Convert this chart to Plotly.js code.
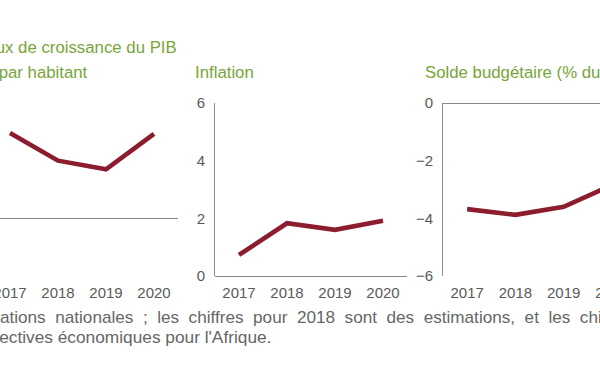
<!DOCTYPE html>
<html>
<head>
<meta charset="utf-8">
<script src="https://cdn.plot.ly/plotly-3.0.1.min.js"></script>
<style>
  html, body { margin: 0; padding: 0; width: 600px; height: 372px; overflow: hidden; background: #fff; }
  #chart { position: absolute; left: -60px; top: 0; width: 720px; height: 372px; }
</style>
</head>
<body>
<div id="chart"></div>
<script>
// ---- data ----
const years = [2017, 2018, 2019, 2020];
const gdpPerCapitaGrowth = [2.96, 2.0, 1.7, 2.93];
const inflation = [0.73, 1.83, 1.6, 1.92];
const budgetBalance = [-3.68, -3.88, -3.6, -2.85];

const titleGdpLine1 = "Taux de croissance du PIB";
const titleGdpLine2 = "réel par habitant";
const titleInflation = "Inflation";
const titleBudget = "Solde budgétaire (% du PIB)";
const noteLine1 = "Source\u00A0 :\u00A0 Données\u00A0 des\u00A0 administrations\u00A0 nationales\u00A0 ;\u00A0 les\u00A0 chiffres\u00A0 pour\u00A0 2018\u00A0 sont\u00A0 des\u00A0 estimations,\u00A0 et\u00A0 les\u00A0 chiffres\u00A0 pour\u00A0 2019\u00A0 et\u00A0 2020\u00A0 des\u00A0 projections\u00A0 des\u00A0 auteurs\u00A0 de";
const noteLine2 = "Perspectives économiques pour l'Afrique.";

// ---- styles ----
const W = 720, H = 372, OFFSET = 60;
const lineColor = "#8c1d2f";
const green = "#79a53a";
const axisGray = "#8a8a8a";
const tickGray = "#5a5a5a";
const titleFont = { family: "Liberation Sans, Arial, sans-serif", size: 16.8, color: green };
const tickFont = { family: "Liberation Sans, Arial, sans-serif", size: 15, color: tickGray };
const noteFont1 = { family: "Liberation Sans, Arial, sans-serif", size: 17.15, color: "#666" };
const noteFont2 = { family: "Liberation Sans, Arial, sans-serif", size: 17.3, color: "#666" };

const px = x => (x + OFFSET) / W;   // screen x -> paper
const py = y => 1 - y / H;          // screen y -> paper

const ydom = [py(276), py(103)];

function xAxis(domain, anchor) {
  return {
    domain: domain, anchor: anchor, range: [2016.5, 2020.5],
    tickvals: years, ticktext: years.map(String), ticks: "",
    showgrid: false, zeroline: false, showline: false,
    tickfont: tickFont, ticklabelstandoff: 6, fixedrange: true
  };
}
function yAxis(domain, anchor, range, tickvals, showlabels) {
  return {
    domain: domain, anchor: anchor, range: range, tickvals: tickvals,
    ticks: "", showgrid: false, showline: true, linecolor: axisGray, linewidth: 1,
    zeroline: true, zerolinecolor: axisGray, zerolinewidth: 1,
    showticklabels: showlabels,
    tickfont: tickFont, ticklabelstandoff: 6, fixedrange: true
  };
}

const trace = (y, xa, ya) => ({
  x: years, y: y, xaxis: xa, yaxis: ya, type: "scatter", mode: "lines",
  line: { color: lineColor, width: 4.6 }, hoverinfo: "skip", cliponaxis: true
});

const layout = {
  width: W, height: H, margin: { l: 0, r: 0, t: 0, b: 0 },
  paper_bgcolor: "#fff", plot_bgcolor: "rgba(0,0,0,0)", showlegend: false,
  xaxis: xAxis([px(-14), px(178)], "y"),
  yaxis: yAxis(ydom, "x", [-2, 4], [-2, 0, 2, 4], false),
  xaxis2: xAxis([px(215), px(407)], "y2"),
  yaxis2: yAxis(ydom, "x2", [0, 6], [0, 2, 4, 6], true),
  xaxis3: xAxis([px(443), px(636)], "y3"),
  yaxis3: yAxis(ydom, "x3", [-6, 0], [-6, -4, -2, 0], true),
  annotations: [
    { text: titleGdpLine1, xref: "paper", yref: "paper", x: px(179), y: py(47), xanchor: "right", yanchor: "middle", showarrow: false, font: titleFont },
    { text: titleGdpLine2, xref: "paper", yref: "paper", x: px(90), y: py(72), xanchor: "right", yanchor: "middle", showarrow: false, font: titleFont },
    { text: titleInflation, xref: "paper", yref: "paper", x: px(193), y: py(72), xanchor: "left", yanchor: "middle", showarrow: false, font: titleFont },
    { text: titleBudget, xref: "paper", yref: "paper", x: px(423), y: py(72), xanchor: "left", yanchor: "middle", showarrow: false, font: titleFont },
    { text: noteLine1, xref: "paper", yref: "paper", x: px(-220), y: py(317), xanchor: "left", yanchor: "middle", showarrow: false, font: noteFont1 },
    { text: noteLine2, xref: "paper", yref: "paper", x: px(273), y: py(337), xanchor: "right", yanchor: "middle", showarrow: false, font: noteFont2 }
  ]
};

Plotly.newPlot("chart", [
  trace(gdpPerCapitaGrowth, "x", "y"),
  trace(inflation, "x2", "y2"),
  trace(budgetBalance, "x3", "y3")
], layout, { displayModeBar: false, staticPlot: true }).then(gd => {
  // align the cropped footnote so that "...ations nationales" starts at the left edge
  const els = Array.from(document.querySelectorAll(".annotation-text"));
  const el = els.find(e => e.textContent.indexOf("nationales") >= 0);
  if (!el) return;
  const idx = el.textContent.indexOf("administr") + "administr".length;
  let sub = 0;
  try { sub = el.getSubStringLength(0, idx); } catch (e) { return; }
  const left = el.getBoundingClientRect().left;
  const shift = -(left + sub);
  const ann = gd.layout.annotations.map(a => Object.assign({}, a));
  ann[4].x = ann[4].x + shift / W;
  return Plotly.relayout(gd, { annotations: ann });
});
</script>
</body>
</html>
